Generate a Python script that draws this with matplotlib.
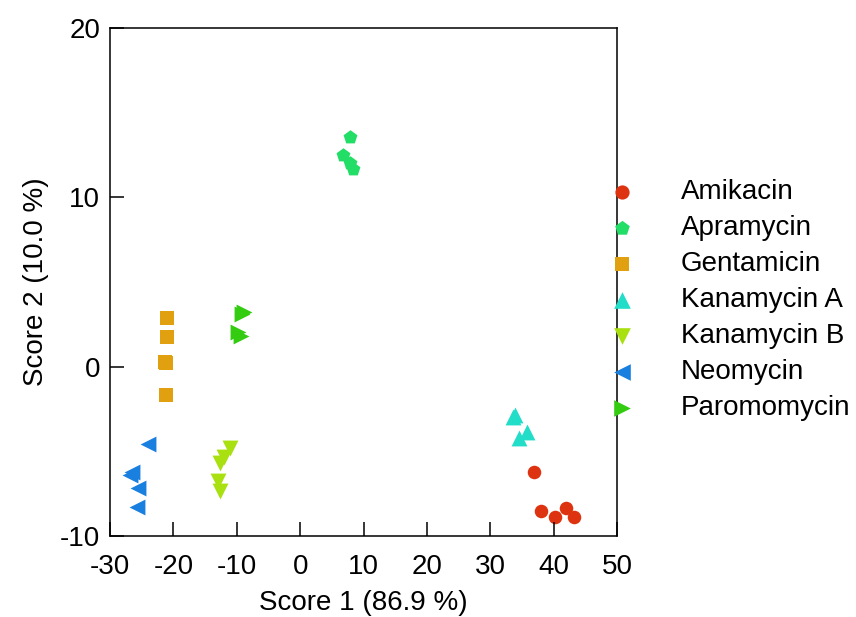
import matplotlib
matplotlib.use('Agg')
import matplotlib.pyplot as plt

# PCA scores per antibiotic (score 1, score 2)
names = ["Amikacin", "Apramycin", "Gentamicin", "Kanamycin A",
         "Kanamycin B", "Neomycin", "Paromomycin"]

amikacin_x = [36.9, 38.0, 40.2, 41.9, 43.2]
amikacin_y = [-6.25, -8.5, -8.9, -8.36, -8.85]

apramycin_x = [7.9, 6.7, 7.9, 8.3]
apramycin_y = [13.57, 12.49, 12.0, 11.7]

gentamicin_x = [-21.0, -21.0, -21.4, -21.1, -21.2]
gentamicin_y = [2.86, 1.73, 0.3, 0.2, -1.69]

kanamycin_a_x = [33.6, 33.9, 34.5, 35.7]
kanamycin_a_y = [-2.95, -2.83, -4.22, -3.83]

kanamycin_b_x = [-11.1, -12.05, -12.6, -12.9, -12.7]
kanamycin_b_y = [-4.82, -5.31, -5.70, -6.78, -7.37]

neomycin_x = [-24.0, -26.5, -26.85, -25.55, -25.7]
neomycin_y = [-4.58, -6.25, -6.39, -7.17, -8.26]

paromomycin_x = [-8.9, -9.1, -9.8, -9.3]
paromomycin_y = [3.2, 3.1, 2.07, 1.81]

xs = [amikacin_x, apramycin_x, gentamicin_x, kanamycin_a_x,
      kanamycin_b_x, neomycin_x, paromomycin_x]
ys = [amikacin_y, apramycin_y, gentamicin_y, kanamycin_a_y,
      kanamycin_b_y, neomycin_y, paromomycin_y]

colors = ["#dd3311", "#22dd66", "#e0a010", "#22ddc8",
          "#a8e010", "#1a80e0", "#33cc11"]
markers = ["o", "p", "s", "^", "v", "<", ">"]
sizes = [95, 110, 95, 130, 130, 130, 130]

plt.rcParams['font.family'] = ['Liberation Sans', 'DejaVu Sans']
plt.rcParams['axes.unicode_minus'] = False

fig = plt.figure(figsize=(8.56, 6.17), dpi=100)
ax = fig.add_axes([0.1285, 0.1313, 0.5925, 0.8233])

for x, y, c, m, s, n in zip(xs, ys, colors, markers, sizes, names):
    ax.scatter(x, y, c=c, marker=m, s=s, linewidths=0, label=n)

ax.set_xlim(-30, 50)
ax.set_ylim(-10, 20)
ax.set_xticks(range(-30, 51, 10))
ax.set_yticks([-10, 0, 10, 20])

for sp in ax.spines.values():
    sp.set_linewidth(1.1)
ax.tick_params(direction='in', length=10, width=1.1, labelsize=20)
ax.tick_params(axis='x', pad=13)
ax.tick_params(axis='y', pad=7)

ax.set_xlabel("Score 1 (86.9 %)", fontsize=20, labelpad=7)
ax.set_ylabel("Score 2 (10.0 %)", fontsize=20, labelpad=8)

ax.legend(loc='upper left', bbox_to_anchor=(614 / 856, 1 - 179 / 617),
          bbox_transform=fig.transFigure, frameon=False,
          fontsize=20, handlelength=0.6, handletextpad=1.8,
          labelspacing=0.36, markerscale=1.05,
          borderpad=0, borderaxespad=0)

plt.savefig("out.png", dpi=100)
